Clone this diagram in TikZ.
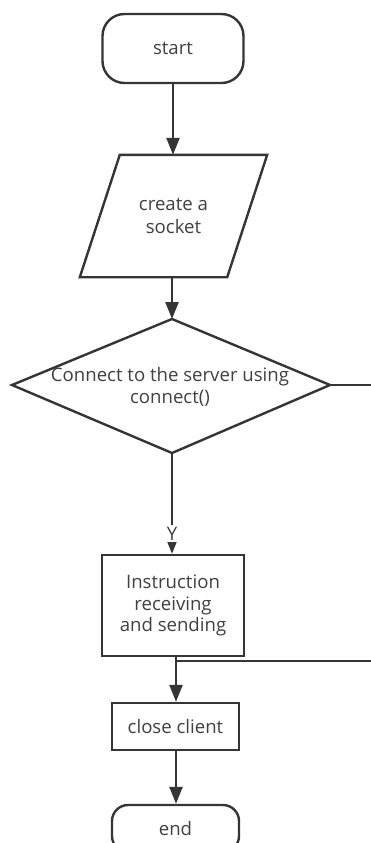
\documentclass[tikz,border=0pt]{standalone}
\usepackage{fontspec}
\setmainfont{Open Sans}
\usetikzlibrary{arrows.meta}
\definecolor{ln}{HTML}{353535}
\definecolor{tx}{HTML}{404040}
\begin{document}
\begin{tikzpicture}[x=1pt,y=-1pt,
  line/.style={draw=ln,line width=2.4pt},
  arr/.style={line,-{Triangle[length=17pt,width=13pt]}},
  txt/.style={text=tx,font=\fontsize{18.6}{22.5}\selectfont,align=center,inner sep=0pt},
  boxst/.style={txt,draw=ln,line width=2.4pt},
]
\useasboundingbox (0,0) rectangle (371,843);
\fill[white] (0,0) rectangle (371,843);
\clip (0,0) rectangle (371,843);

% start
\node[boxst,rounded corners=22pt,minimum width=141pt,minimum height=69pt] (start) at (173,48.5) {start};
% socket (parallelogram)
\node[txt,minimum width=147pt,minimum height=122pt] (sock) at (173.5,216) {create a\\socket};
\draw[line] ([xshift=20pt]sock.north west) -- ([xshift=20pt]sock.north east)
  -- ([xshift=-20pt]sock.south east) -- ([xshift=-20pt]sock.south west) -- cycle;
% diamond
\node[txt] (conn) at (170,387) {Connect to the server using\\connect()};
\coordinate (ct) at (172,319);
\coordinate (cb) at (172,453);
\coordinate (cl) at (12,385);
\coordinate (cr) at (330,385);
\draw[line] (ct) -- (cr) -- (cb) -- (cl) -- cycle;
% instruction
\node[boxst,font=\fontsize{18.6}{21.5}\selectfont,minimum width=142pt,minimum height=101pt] (instr) at (173,605.5) {Instruction\\receiving\\and sending};
% close client
\node[boxst,minimum width=127pt,minimum height=47pt] (close) at (175.5,726.5) {close client};
% end
\node[boxst,rounded corners=16pt,minimum width=127pt,minimum height=47pt] (end) at (175.5,828.5) {end};

\coordinate (join) at (176,661);
\coordinate (rt) at (372,385);
\coordinate (rb) at (372,661);

\draw[arr] (start.south) -- (start.south |- sock.north);
\draw[arr] (sock.south -| ct) -- (ct);
\draw[arr] (cb) -- node[pos=0.8,fill=white,txt,inner sep=2pt]{Y} (cb |- instr.north);
\draw[line] (instr.south -| join) -- (join);
\draw[arr] (join) -- (close.north -| join);
\draw[arr] (close.south -| join) -- (end.north -| join);
\draw[line] (cr) -- (rt) -- (rb) -- (join);
\node[txt,fill=white,anchor=west,inner sep=1pt] (nlab) at (368.5,622) {N};
\end{tikzpicture}
\end{document}
